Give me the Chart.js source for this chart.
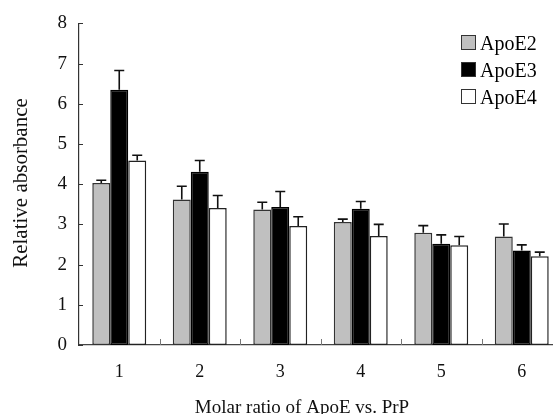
<!DOCTYPE html>
<html>
<head>
<meta charset="utf-8">
<script src="https://cdn.jsdelivr.net/npm/chart.js@4"></script>
<style>
  html, body { margin:0; padding:0; overflow:hidden; background:#fff; }
  #wrap { position:relative; width:570px; height:414px; }
  #legend { position:absolute; left:461px; top:34px; font-family:'Liberation Serif', serif; font-size:20px; color:#000; }
  #legend div { height:27px; line-height:18px; display:flex; align-items:flex-start; }
  #legend span.box { display:inline-block; width:13px; height:13px; border:1px solid #333; margin-right:4px; margin-top:1px; }
</style>
</head>
<body>
<div id="wrap">
  <canvas id="c" width="570" height="414"></canvas>
  <div id="legend"></div>
</div>
<script>
// Dados
const categorias = ['1', '2', '3', '4', '5', '6'];
const apoE2 = [4.03, 3.62, 3.37, 3.06, 2.79, 2.70];
const apoE2Err = [0.07, 0.33, 0.18, 0.07, 0.18, 0.31];
const apoE3 = [6.35, 4.31, 3.43, 3.39, 2.52, 2.35];
const apoE3Err = [0.48, 0.28, 0.39, 0.18, 0.22, 0.14];
const apoE4 = [4.59, 3.41, 2.96, 2.71, 2.48, 2.21];
const apoE4Err = [0.13, 0.31, 0.23, 0.29, 0.22, 0.10];
const yTicks = [0, 1, 2, 3, 4, 5, 6, 7, 8];

const serif = 'Liberation Serif';

const series = [
  { label:'ApoE2', data:apoE2, err:apoE2Err, fill:'#c0c0c0', border:'#333' },
  { label:'ApoE3', data:apoE3, err:apoE3Err, fill:'#000', border:'#000' },
  { label:'ApoE4', data:apoE4, err:apoE4Err, fill:'#fff', border:'#222' }
];

// legenda em HTML (texto real)
const leg = document.getElementById('legend');
series.forEach(s => {
  const row = document.createElement('div');
  row.innerHTML = '<span class="box" style="background:' + s.fill + '"></span>' + s.label;
  leg.appendChild(row);
});

// barras de erro (só para cima) + ticks internos
const errorBars = {
  id: 'errorBars',
  afterDatasetsDraw(chart) {
    const ctx = chart.ctx;
    const y = chart.scales.y;
    const x = chart.scales.x;
    ctx.save();
    ctx.strokeStyle = '#111';
    ctx.lineWidth = 1.6;
    chart.data.datasets.forEach((ds, di) => {
      const meta = chart.getDatasetMeta(di);
      meta.data.forEach((bar, i) => {
        const top = y.getPixelForValue(ds.data[i] + ds.err[i]);
        ctx.beginPath();
        ctx.moveTo(bar.x, bar.y);
        ctx.lineTo(bar.x, top);
        ctx.moveTo(bar.x - 5, top);
        ctx.lineTo(bar.x + 5, top);
        ctx.stroke();
      });
    });
    // ticks do eixo y (para dentro)
    ctx.strokeStyle = '#333';
    ctx.lineWidth = 1;
    yTicks.forEach(v => {
      const py = Math.round(y.getPixelForValue(v)) + 0.5;
      ctx.beginPath();
      ctx.moveTo(chart.chartArea.left, py);
      ctx.lineTo(chart.chartArea.left + 4, py);
      ctx.stroke();
    });
    // ticks do eixo x entre categorias (para cima)
    ctx.strokeStyle = '#777';
    for (let i = 0; i < categorias.length - 1; i++) {
      const px = Math.round((x.getPixelForValue(i) + x.getPixelForValue(i + 1)) / 2) + 0.5;
      ctx.beginPath();
      ctx.moveTo(px, chart.chartArea.bottom);
      ctx.lineTo(px, chart.chartArea.bottom - 6);
      ctx.stroke();
    }
    ctx.restore();
  },
  afterDraw(chart) {
    const ctx = chart.ctx;
    ctx.save();
    ctx.fillStyle = '#111';
    ctx.font = '19px "' + serif + '"';
    ctx.textAlign = 'center';
    ctx.textBaseline = 'alphabetic';
    ctx.fillText('Molar ratio of ApoE vs. PrP', 302, 413);
    ctx.translate(27, 183);
    ctx.rotate(-Math.PI / 2);
    ctx.font = '21px "' + serif + '"';
    ctx.fillText('Relative absorbance', 0, 0);
    ctx.restore();
  }
};

new Chart(document.getElementById('c'), {
  type: 'bar',
  data: {
    labels: categorias,
    datasets: series.map(s => ({
      label: s.label,
      data: s.data,
      err: s.err,
      backgroundColor: s.fill,
      borderColor: s.border,
      borderWidth: 1.5,
      borderSkipped: false,
      categoryPercentage: 0.67,
      barPercentage: 1.0
    }))
  },
  options: {
    responsive: false,
    animation: false,
    layout: { padding: { top: 19, right: 8, left: 0, bottom: 0 } },
    plugins: { legend: { display: false }, tooltip: { enabled: false } },
    scales: {
      x: {
        afterFit: s => { s.height = 69; },
        grid: { display: false, drawTicks: false },
        border: { display: true, color: '#444', width: 1.2 },
        ticks: { color: '#111', padding: 16, font: { family: serif, size: 18 } }
      },
      y: {
        min: 0, max: 8,
        afterFit: s => { s.width = 79; },
        afterBuildTicks: s => { s.ticks = yTicks.map(v => ({ value: v })); },
        grid: { display: false, drawTicks: false },
        border: { display: true, color: '#333', width: 1.2 },
        ticks: { color: '#111', padding: 12, font: { family: serif, size: 19 } }
      }
    }
  },
  plugins: [errorBars]
});
</script>
</body>
</html>
